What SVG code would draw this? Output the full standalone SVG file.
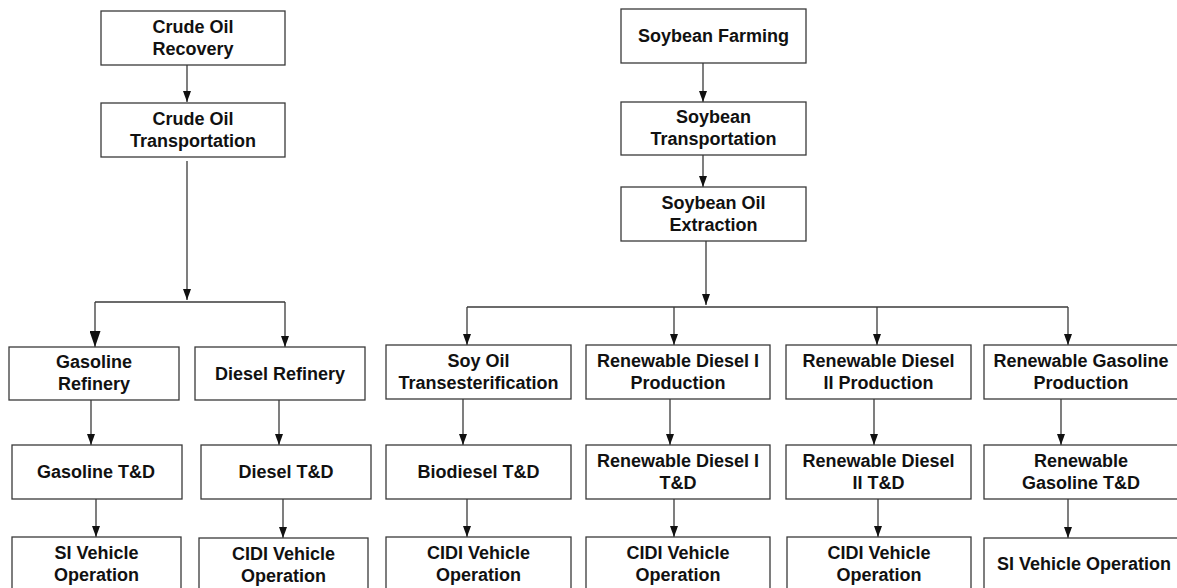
<svg xmlns="http://www.w3.org/2000/svg" width="1177" height="588" viewBox="0 0 1177 588">
<style>
.box{fill:#ffffff;stroke:#3a3a3a;stroke-width:1.3}
.t{font-family:"Liberation Sans",Arial,sans-serif;font-weight:bold;font-size:18px;fill:#111111;text-anchor:middle}
.c{fill:none;stroke:#3a3a3a;stroke-width:1.3}
.a{marker-end:url(#arr)}
.b{marker-end:url(#arrB)}
</style>
<defs>
<marker id="arr" markerUnits="userSpaceOnUse" markerWidth="11" markerHeight="8" viewBox="0 0 11 8" refX="11" refY="4" orient="auto">
<path d="M0,0 L11,4 L0,8 Z" fill="#111111"/>
</marker>
<marker id="arrB" markerUnits="userSpaceOnUse" markerWidth="16" markerHeight="11" viewBox="0 0 16 11" refX="16" refY="5.5" orient="auto">
<path d="M0,0 L16,5.5 L0,11 Z" fill="#111111"/>
</marker>
</defs>
<rect width="1177" height="588" fill="#ffffff"/>

<g id="connectors">
<path class="c a" d="M187,65 V102"/>
<path class="c a" d="M187,161 V300"/>
<path class="c" d="M95,302 H285"/>
<path class="c b" d="M95,302 V347"/>
<path class="c a" d="M285,302 V347"/>
<path class="c a" d="M91,400 V445"/>
<path class="c a" d="M279,400 V445"/>
<path class="c a" d="M96,499 V537"/>
<path class="c a" d="M283,499 V538"/>

<path class="c a" d="M703,63 V102"/>
<path class="c a" d="M703,155 V187"/>
<path class="c a" d="M706,241 V305"/>
<path class="c" d="M467,307 H1068"/>
<path class="c a" d="M467,307 V345"/>
<path class="c a" d="M674,307 V345"/>
<path class="c a" d="M877,307 V345"/>
<path class="c a" d="M1068,307 V345"/>
<path class="c a" d="M463,399 V445"/>
<path class="c a" d="M670,399 V445"/>
<path class="c a" d="M874,399 V445"/>
<path class="c a" d="M1061,399 V445"/>
<path class="c a" d="M467,499 V537"/>
<path class="c a" d="M674,499 V537"/>
<path class="c a" d="M878,499 V537"/>
<path class="c a" d="M1068,499 V538"/>
</g>

<g id="crude-oil-recovery"><rect class="box" x="101" y="11" width="184" height="54"/><text class="t" x="193" y="32.5">Crude Oil</text><text class="t" x="193" y="54.5">Recovery</text></g>
<g id="crude-oil-transportation"><rect class="box" x="101" y="103" width="184" height="54"/><text class="t" x="193" y="124.5">Crude Oil</text><text class="t" x="193" y="146.5">Transportation</text></g>
<g id="gasoline-refinery"><rect class="box" x="9" y="347" width="170" height="53"/><text class="t" x="94" y="367.5">Gasoline</text><text class="t" x="94" y="389.5">Refinery</text></g>
<g id="diesel-refinery"><rect class="box" x="195" y="347" width="170" height="53"/><text class="t" x="280" y="379.5">Diesel Refinery</text></g>
<g id="gasoline-td"><rect class="box" x="12" y="445" width="170" height="54"/><text class="t" x="96" y="478">Gasoline T&amp;D</text></g>
<g id="diesel-td"><rect class="box" x="201" y="445" width="170" height="54"/><text class="t" x="286" y="478">Diesel T&amp;D</text></g>
<g id="si-vehicle-1"><rect class="box" x="12" y="537" width="169" height="54"/><text class="t" x="96.5" y="558.5">SI Vehicle</text><text class="t" x="96.5" y="580.5">Operation</text></g>
<g id="cidi-vehicle-1"><rect class="box" x="199" y="538" width="169" height="54"/><text class="t" x="283.5" y="559.5">CIDI Vehicle</text><text class="t" x="283.5" y="581.5">Operation</text></g>

<g id="soybean-farming"><rect class="box" x="621" y="9" width="185" height="54"/><text class="t" x="713.5" y="42">Soybean Farming</text></g>
<g id="soybean-transportation"><rect class="box" x="621" y="102" width="185" height="53"/><text class="t" x="713.5" y="123">Soybean</text><text class="t" x="713.5" y="145">Transportation</text></g>
<g id="soybean-oil-extraction"><rect class="box" x="621" y="187" width="185" height="54"/><text class="t" x="713.5" y="208.5">Soybean Oil</text><text class="t" x="713.5" y="230.5">Extraction</text></g>

<g id="soy-oil-transesterification"><rect class="box" x="386" y="345" width="185" height="54"/><text class="t" x="478.5" y="366.5">Soy Oil</text><text class="t" x="478.5" y="388.5">Transesterification</text></g>
<g id="rd1-production"><rect class="box" x="586" y="345" width="184" height="54"/><text class="t" x="678" y="366.5">Renewable Diesel I</text><text class="t" x="678" y="388.5">Production</text></g>
<g id="rd2-production"><rect class="box" x="786" y="345" width="185" height="54"/><text class="t" x="878.5" y="366.5">Renewable Diesel</text><text class="t" x="878.5" y="388.5">II Production</text></g>
<g id="rg-production"><rect class="box" x="984" y="345" width="200" height="54"/><text class="t" x="1081" y="366.5">Renewable Gasoline</text><text class="t" x="1081" y="388.5">Production</text></g>

<g id="biodiesel-td"><rect class="box" x="386" y="445" width="185" height="54"/><text class="t" x="478.5" y="478">Biodiesel T&amp;D</text></g>
<g id="rd1-td"><rect class="box" x="586" y="445" width="184" height="54"/><text class="t" x="678" y="466.5">Renewable Diesel I</text><text class="t" x="678" y="488.5">T&amp;D</text></g>
<g id="rd2-td"><rect class="box" x="786" y="445" width="185" height="54"/><text class="t" x="878.5" y="466.5">Renewable Diesel</text><text class="t" x="878.5" y="488.5">II T&amp;D</text></g>
<g id="rg-td"><rect class="box" x="984" y="445" width="200" height="54"/><text class="t" x="1081" y="466.5">Renewable</text><text class="t" x="1081" y="488.5">Gasoline T&amp;D</text></g>

<g id="cidi-vehicle-2"><rect class="box" x="386" y="537" width="185" height="54"/><text class="t" x="478.5" y="558.5">CIDI Vehicle</text><text class="t" x="478.5" y="580.5">Operation</text></g>
<g id="cidi-vehicle-3"><rect class="box" x="586" y="537" width="184" height="54"/><text class="t" x="678" y="558.5">CIDI Vehicle</text><text class="t" x="678" y="580.5">Operation</text></g>
<g id="cidi-vehicle-4"><rect class="box" x="787" y="537" width="184" height="54"/><text class="t" x="879" y="558.5">CIDI Vehicle</text><text class="t" x="879" y="580.5">Operation</text></g>
<g id="si-vehicle-2"><rect class="box" x="984" y="538" width="200" height="54"/><text class="t" x="1084" y="570">SI Vehicle Operation</text></g>
</svg>
